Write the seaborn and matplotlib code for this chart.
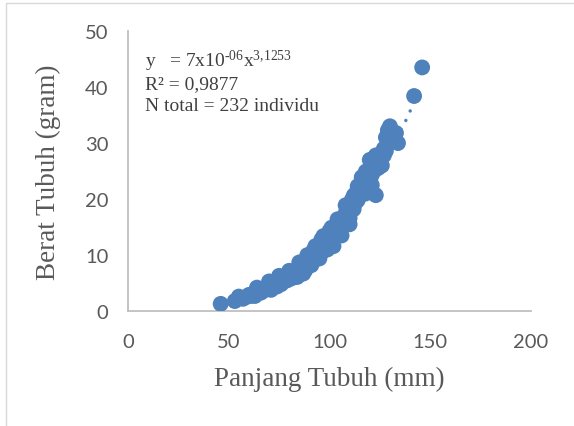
import numpy as np
import pandas as pd
import matplotlib
matplotlib.use("Agg")
import matplotlib.pyplot as plt
import seaborn as sns
from matplotlib.patches import Rectangle

# data kira-kira
panjang = [46, 53, 55, 57, 58, 60, 61, 62, 63, 64, 65, 66, 67, 68, 69, 70, 71, 72, 73, 74,
           75, 76, 77, 78, 79, 80, 80, 81, 82, 83, 84, 84, 85, 86, 86, 87, 88, 88, 89, 90,
           90, 91, 92, 92, 93, 94, 94, 95, 96, 96, 97, 97, 98, 98, 99, 100, 100, 101, 101, 102,
           102, 103, 104, 104, 105, 105, 106, 106, 107, 108, 108, 109, 110, 110, 111, 111, 112, 113, 113, 114,
           114, 115, 116, 116, 117, 118, 118, 119, 120, 120, 121, 122, 122, 123, 123, 124, 125, 125, 126, 127,
           127, 128, 129, 130, 131, 132, 133, 134, 142, 146,
           # titik tambahan (sebaran lebih lebar)
           64, 70, 75, 78, 82, 85, 87, 89, 91, 93, 95, 97, 99, 100, 102, 104, 106, 108, 110, 112,
           114, 116, 118, 120, 121, 124, 126, 128, 88, 92, 96, 101, 105, 109, 113, 117, 80, 84]
berat = [1.3, 1.8, 2.6, 2.2, 2.4, 2.9, 2.7, 3.1, 2.7, 3.3, 3.5, 3.3, 3.6, 3.9, 4.0, 4.2, 3.8, 4.6, 4.5, 4.4,
         5.0, 4.8, 5.3, 5.8, 5.5, 6.2, 5.7, 6.6, 6.0, 7.1, 6.8, 7.3, 7.4, 7.9, 7.2, 7.6, 8.5, 7.9, 8.1, 9.0,
         8.4, 9.6, 8.9, 9.9, 10.2, 9.7, 10.6, 10.8, 11.4, 10.4, 12.0, 11.1, 11.2, 12.4, 12.6, 13.1, 12.0, 13.8, 12.8, 12.9,
         14.2, 14.5, 13.6, 15.3, 15.9, 14.6, 14.8, 16.4, 16.8, 15.9, 17.5, 18.3, 16.6, 19.0, 19.8, 18.0, 18.2, 21.0, 19.4, 22.3,
         20.5, 20.5, 23.0, 21.6, 21.8, 24.9, 22.6, 23.2, 25.6, 24.0, 24.3, 26.5, 25.0, 20.7, 27.8, 25.5, 27.0, 25.8, 28.3, 29.0,
         27.8, 31.0, 32.3, 33.0, 31.4, 30.6, 31.8, 30.0, 38.4, 43.5,
         4.2, 5.3, 6.3, 5.4, 6.0, 8.7, 6.7, 10.0, 8.2, 11.6, 9.4, 13.4, 11.0, 14.3, 11.6, 16.4, 13.5, 18.9, 15.5, 20.6,
         19.8, 23.9, 21.0, 27.0, 22.5, 26.7, 26.0, 28.6, 7.3, 10.8, 12.8, 14.9, 13.6, 17.0, 20.0, 23.5, 7.2, 6.1]

# koefisien trendline power (Excel)
koef_a = 7e-6
koef_b = 3.1253

df = pd.DataFrame({"panjang": panjang, "berat": berat})

sns.set_style("white")
plt.rcParams["mathtext.fontset"] = "custom"
plt.rcParams["mathtext.rm"] = "Liberation Serif"
plt.rcParams["mathtext.default"] = "regular"

fig = plt.figure(figsize=(5.74, 4.27), dpi=100)
ax = fig.add_axes([0.223, 0.269, 0.702, 0.656])

biru = "#4F81BD"
sns.scatterplot(data=df, x="panjang", y="berat", s=130, color=biru,
                edgecolor="none", linewidth=0, ax=ax, zorder=3)

xs = np.linspace(min(panjang), max(panjang), 200)
ax.plot(xs, koef_a * xs ** koef_b, color=biru, lw=2.5,
        linestyle=(0, (0.01, 3.0)), dash_capstyle="round", zorder=4)

ax.set_xlim(0, 200)
ax.set_ylim(0, 50)
ax.set_xticks([0, 50, 100, 150, 200])
ax.set_yticks([0, 10, 20, 30, 40, 50])
for lbl in ax.get_xticklabels() + ax.get_yticklabels():
    lbl.set_fontfamily("Lato")
    lbl.set_fontsize(14.5)
    lbl.set_color("#595959")
ax.tick_params(axis="x", length=0, pad=16)
ax.tick_params(axis="y", length=0, pad=14)

serif = "Liberation Serif"
ax.set_xlabel("Panjang Tubuh (mm)", fontfamily=serif, fontsize=19.5, color="#595959", labelpad=11)
ax.set_ylabel("Berat Tubuh (gram)", fontfamily=serif, fontsize=19.5, color="#595959", labelpad=17)

for s in ["top", "right"]:
    ax.spines[s].set_visible(False)
for s in ["left", "bottom"]:
    ax.spines[s].set_color("#BFBFBF")
    ax.spines[s].set_linewidth(1.3)

teks_kw = dict(transform=fig.transFigure, fontfamily=serif, fontsize=14, color="#404040", va="baseline")
fig.text(145 / 574, 1 - 67 / 427, "y   = 7x10$^{\u2010 06}$x$^{3{,}1253}$", **teks_kw)
fig.text(145 / 574, 1 - 89 / 427, "R² = 0,9877", **teks_kw)
fig.text(145 / 574, 1 - 111 / 427, "N total = 232 individu", **teks_kw)

fig.patches.append(Rectangle((6 / 574, -0.05), 1.2, 1 - 4 / 427 + 0.05,
                             transform=fig.transFigure, fill=False,
                             edgecolor="#D9D9D9", linewidth=1))

fig.savefig("out.png", dpi=100)
